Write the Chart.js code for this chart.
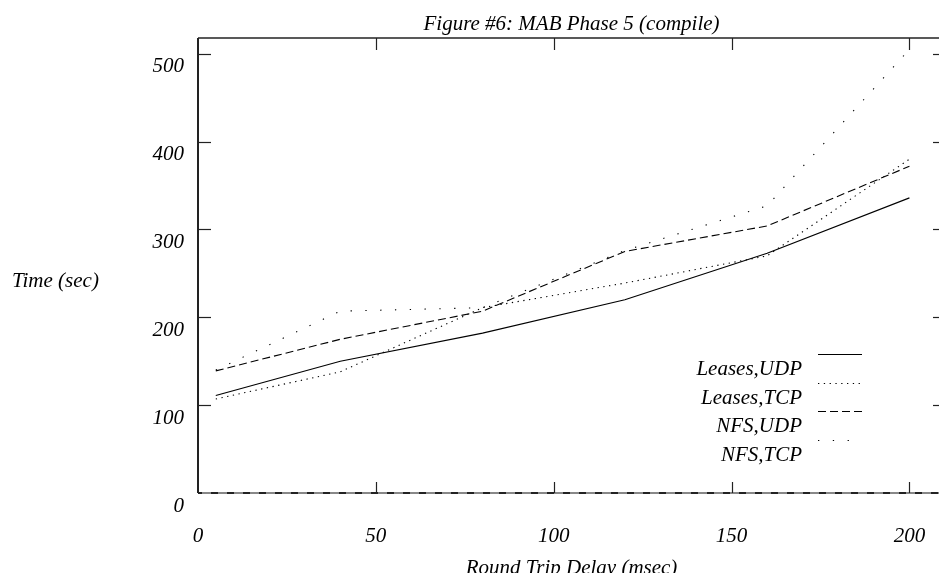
<!DOCTYPE html>
<html><head><meta charset="utf-8">
<script src="https://cdn.jsdelivr.net/npm/chart.js@4/dist/chart.umd.min.js"></script>
<style>html,body{margin:0;padding:0;overflow:hidden;background:#fff}canvas{display:block}</style>
</head><body>
<canvas id="c" width="960" height="573"></canvas>
<script>
const delays = [5, 40, 80, 120, 160, 200];
const leasesUDP = [111, 150, 182, 220, 273, 336];
const leasesTCP = [107, 138, 211, 239, 270, 380];
const nfsUDP = [139, 175, 207, 275, 304, 372];
const nfsTCP = [140, 207, 211, 276, 327, 505];
const xTicks = [0, 50, 100, 150, 200];
const yTicks = [0, 100, 200, 300, 400, 500];
const seriesNames = ['Leases,UDP', 'Leases,TCP', 'NFS,UDP', 'NFS,TCP'];
const titleText = 'Figure #6: MAB Phase 5 (compile)';
const xTitle = 'Round Trip Delay (msec)';
const yTitle = 'Time (sec)';

const FONT_FAMILY = '"Liberation Serif", "Times New Roman", serif';
const dashes = [[], [1.3, 4.5], [8, 4], [1.3, 13.5]];
const seriesValues = [leasesUDP, leasesTCP, nfsUDP, nfsTCP];

const datasets = seriesNames.map((name, i) => ({
  label: name,
  data: delays.map((d, j) => ({x: d, y: seriesValues[i][j]})),
  borderColor: '#000',
  borderWidth: 1.1,
  borderDash: dashes[i],
  pointRadius: 0,
  tension: 0,
  fill: false
}));

const framePlugin = {
  id: 'frame',
  afterDraw(chart) {
    const ctx = chart.ctx;
    const a = chart.chartArea;
    const xs = chart.scales.x, ys = chart.scales.y;
    ctx.save();
    ctx.setLineDash([]);
    ctx.strokeStyle = '#222';
    // top border
    ctx.lineWidth = 1.5;
    ctx.beginPath(); ctx.moveTo(a.left, a.top); ctx.lineTo(a.right, a.top); ctx.stroke();
    // right border
    ctx.beginPath(); ctx.moveTo(a.right, a.top); ctx.lineTo(a.right, a.bottom); ctx.stroke();
    // left axis
    ctx.lineWidth = 2;
    ctx.beginPath(); ctx.moveTo(a.left, a.top); ctx.lineTo(a.left, a.bottom); ctx.stroke();
    // bottom axis
    ctx.lineWidth = 2.2;
    ctx.strokeStyle = '#222';
    ctx.beginPath(); ctx.moveTo(a.left, a.bottom); ctx.lineTo(a.right, a.bottom); ctx.stroke();
    ctx.strokeStyle = '#888';
    ctx.setLineDash([9, 7]);
    ctx.beginPath(); ctx.moveTo(a.left + 4, a.bottom); ctx.lineTo(a.right, a.bottom); ctx.stroke();
    ctx.setLineDash([]);
    // ticks
    ctx.strokeStyle = '#222';
    ctx.lineWidth = 1.2;
    const tl = 12;
    xTicks.forEach(v => {
      if (v === 0) return;
      const px = Math.round(xs.getPixelForValue(v)) + 0.5;
      ctx.beginPath(); ctx.moveTo(px, a.bottom); ctx.lineTo(px, a.bottom - tl + 1); ctx.stroke();
      ctx.beginPath(); ctx.moveTo(px, a.top); ctx.lineTo(px, a.top + tl); ctx.stroke();
    });
    yTicks.forEach(v => {
      if (v === 0) return;
      const py = Math.round(ys.getPixelForValue(v)) + 0.5;
      ctx.beginPath(); ctx.moveTo(a.left, py); ctx.lineTo(a.left + tl + 1, py); ctx.stroke();
      ctx.beginPath(); ctx.moveTo(a.right, py); ctx.lineTo(a.right - tl, py); ctx.stroke();
    });
    // texts
    ctx.fillStyle = '#000';
    ctx.font = 'italic 21px ' + FONT_FAMILY;
    ctx.textBaseline = 'alphabetic';
    ctx.textAlign = 'center';
    ctx.fillText(titleText, (a.left + a.right) / 2, 30);
    ctx.fillText(xTitle, (a.left + a.right) / 2, 574);
    ctx.textAlign = 'left';
    ctx.fillText(yTitle, 12, 287);
    // legend
    const legX1 = 818, legX2 = 862, textRight = 802;
    seriesNames.forEach((name, i) => {
      const base = 375 + i * 28.7;
      ctx.textAlign = 'right';
      ctx.fillText(name, textRight, base);
      const ly = Math.round(base - 21) + 0.5;
      ctx.setLineDash(dashes[i]);
      ctx.lineWidth = 1.1;
      ctx.strokeStyle = '#000';
      ctx.beginPath(); ctx.moveTo(legX1, ly); ctx.lineTo(legX2, ly); ctx.stroke();
    });
    ctx.restore();
  }
};

const tickFont = {family: FONT_FAMILY, size: 21, style: 'italic'};

new Chart(document.getElementById('c'), {
  type: 'line',
  data: {datasets},
  options: {
    responsive: false,
    animation: false,
    layout: {padding: {top: 38, right: 15, bottom: 0, left: 0}},
    plugins: {legend: {display: false}, title: {display: false}, tooltip: {enabled: false}},
    scales: {
      x: {
        type: 'linear', min: 0, max: 210,
        afterBuildTicks: s => { s.ticks = xTicks.map(v => ({value: v})); },
        afterFit: s => { s.height = 80; },
        grid: {display: false, drawTicks: false},
        border: {display: false},
        ticks: {font: tickFont, color: '#000', padding: 31, maxRotation: 0, autoSkip: false}
      },
      y: {
        type: 'linear', min: 0, max: 518,
        afterBuildTicks: s => { s.ticks = yTicks.map(v => ({value: v})); },
        afterFit: s => { s.width = 198; },
        grid: {display: false, drawTicks: false},
        border: {display: false},
        ticks: {font: tickFont, color: '#000', padding: 14, labelOffset: 13, autoSkip: false}
      }
    }
  },
  plugins: [framePlugin]
});
</script>
</body></html>
